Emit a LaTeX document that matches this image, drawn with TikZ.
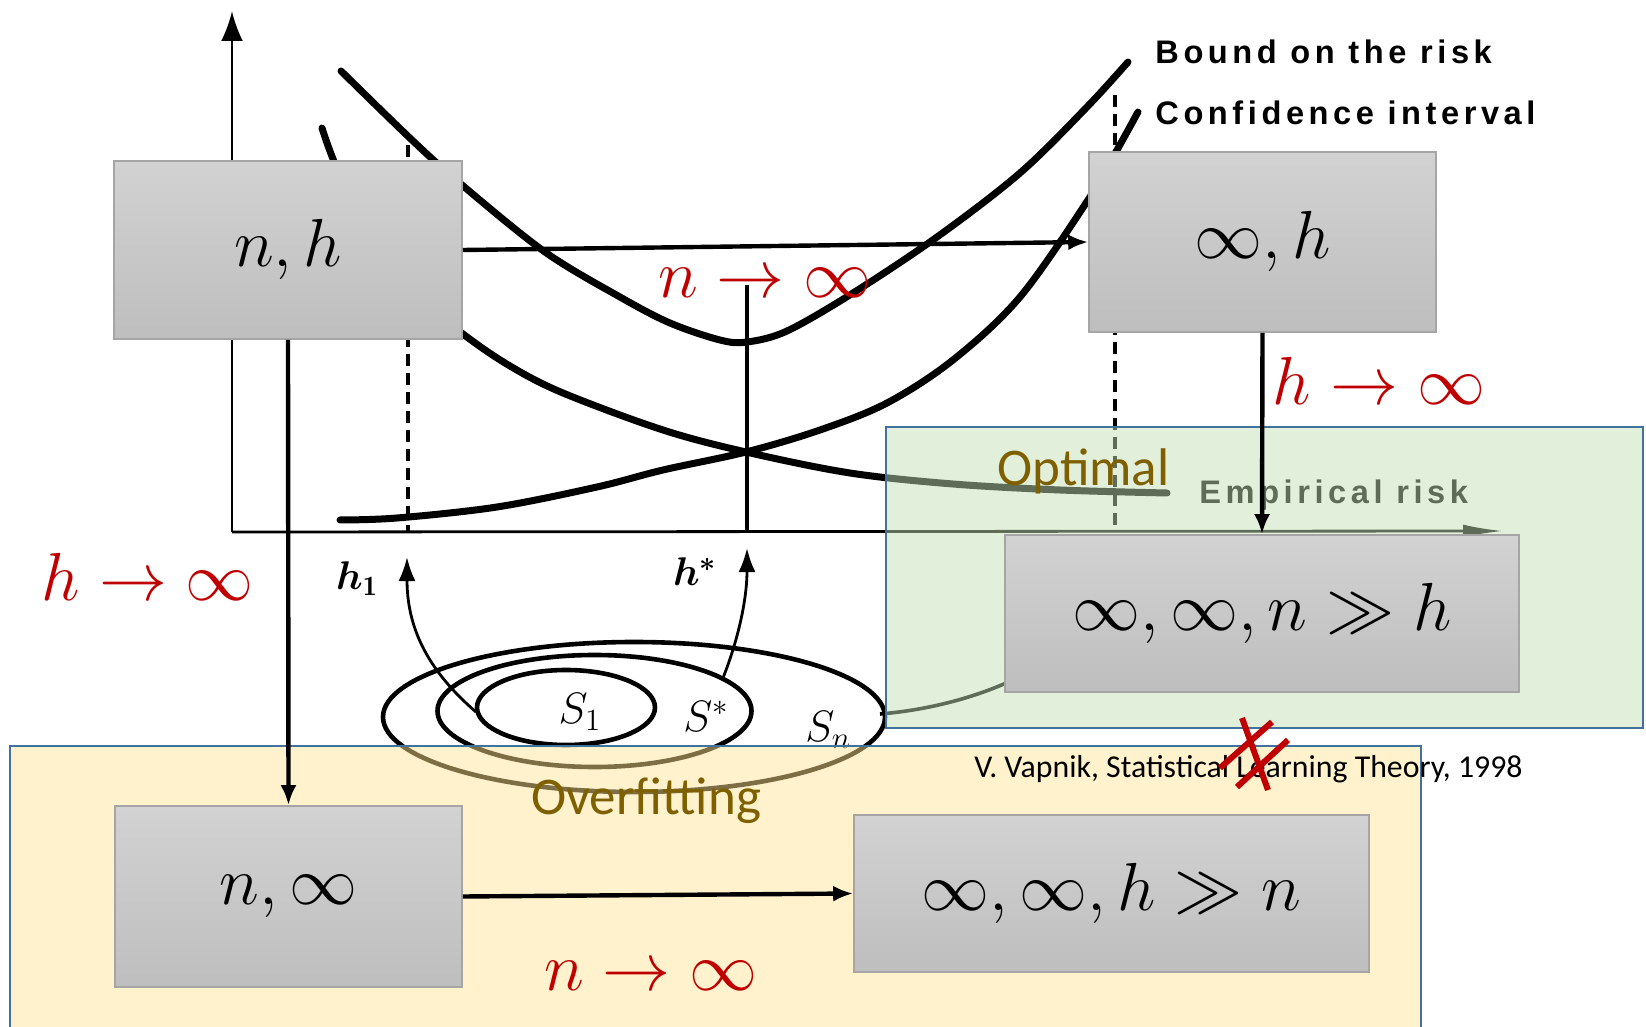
\RequirePackage{fix-cm}
\documentclass[tikz,border=0pt]{standalone}
\usepackage{amsmath,bm}
\usepackage{fontspec}
\newfontfamily\scanfont[LetterSpace=14]{Liberation Sans Bold}
\newfontfamily\calfont{Carlito}
\usetikzlibrary{arrows.meta,shadings}
\definecolor{boxtop}{RGB}{210,210,210}
\definecolor{boxbot}{RGB}{190,190,190}
\definecolor{boxedge}{RGB}{165,165,165}
\definecolor{greenfill}{RGB}{226,239,218}
\definecolor{yellowfill}{RGB}{255,242,204}
\definecolor{rectedge}{RGB}{65,113,156}
\definecolor{fadegreen}{RGB}{95,108,88}
\definecolor{fadeyellow}{RGB}{125,110,70}
\definecolor{goldtext}{RGB}{127,96,0}
\definecolor{redlab}{RGB}{192,0,0}
\tikzset{
  curve/.style={line width=3.5pt,line cap=round,line join=round},
  axisline/.style={line width=1.4pt},
  dashline/.style={line width=2pt,dash pattern=on 6pt off 3.5pt},
  thinarrow/.style={line width=1.4pt,-{Latex[length=12pt,width=8.5pt]}},
  scantext/.style={inner sep=0pt,font=\scanfont\fontsize{16.3}{19}\selectfont},
  setlab/.style={inner sep=0pt,font=\fontsize{22}{24}\selectfont},
  axlab/.style={inner sep=0pt,font=\fontsize{20}{22}\selectfont},
  gbox/.style={draw=boxedge,line width=0.8pt,top color=boxtop,bottom color=boxbot,inner sep=0pt,font=\fontsize{34}{40}\selectfont},
  conn/.style={line width=2.2pt,-{Latex[length=10pt,width=8pt]}},
  redl/.style={inner sep=0pt,text=redlab,font=\fontsize{34}{40}\selectfont},
  regionlab/.style={inner sep=0pt,text=goldtext,font=\calfont\fontsize{26.5}{30}\selectfont},
  regionbox/.style={draw=rectedge,line width=1.1pt},
  crossline/.style={draw=redlab,line width=3pt}
}
\newcommand\vgraph[1]{%
\begin{scope}[color=#1]
  % axes
  \draw[axisline,-{Latex[length=15pt,width=11pt]}] (232,532) -- (232,11);
  \draw[axisline,-{Latex[length=20pt,width=6.5pt]}] (232,532) -- (1503,531);
  % dashed verticals and h* line
  \draw[dashline] (408,145) -- (408,532);
  \draw[dashline] (1115,95) -- (1115,532);
  \draw[line width=1.6pt] (747,285) -- (747,532);
  % bound on the risk
  \draw[curve] plot[smooth,tension=0.55] coordinates {(341,71) (413,141) (462,185) (545,252) (620,297) (670,323) (720,340) (747,342) (787,331) (853,293) (937,237) (1020,173) (1087,107) (1128,62)};
  % confidence interval
  \draw[curve] plot[smooth,tension=0.55] coordinates {(340,520) (397,518) (497,507) (597,487) (663,470) (746,452) (820,430) (887,403) (953,360) (1020,297) (1088,200) (1117,150) (1138,112)};
  % empirical risk
  \draw[curve] plot[smooth,tension=0.55] coordinates {(322,128) (340,175) (380,245) (420,297) (463,334) (510,366) (563,393) (663,430) (746,452) (850,473) (953,484) (1060,490) (1167,493)};
  % nested sets
  \draw[line width=2.3pt] (634,717) ellipse [x radius=251, y radius=75];
  \draw[line width=2.3pt] (594.5,711) ellipse [x radius=157, y radius=56];
  \draw[line width=2.3pt] (566,707.5) ellipse [x radius=89, y radius=37.5];
  \node[setlab] (s1) at (580,712) {$S_1$};
  \node[setlab] (sstar) at (706,716) {$S^*$};
  \node[setlab] (sn) at (828,730) {$S_n$};
  % arrows to the axis
  \draw[thinarrow] (476,712) .. controls (425,668) and (407,625) .. (407,557);
  \draw[thinarrow] (723,678) .. controls (738,640) and (747,600) .. (747,548);
  \draw[line width=1.8pt] (880,714) .. controls (990,705) and (1110,650) .. (1115,560);
  % axis labels
  \node[axlab,anchor=base] (h1) at (357,589) {$\bm{h}_{\mathbf 1}$};
  \node[axlab,anchor=base] (hstar) at (695,586) {$\bm{h}^{\bm *}$};
  % curve labels
  \node[scantext,anchor=base west] (bound) at (1155,64) {Bound on the risk};
  \node[scantext,anchor=base west] (conf) at (1155,125) {Confidence interval};
  \node[scantext,anchor=base west] (emp) at (1199,503) {Empirical risk};
\end{scope}}
\begin{document}
\begin{tikzpicture}[x=0.5pt,y=-0.5pt]
\useasboundingbox (0,0) rectangle (1646,1027);
\clip (0,0) rectangle (1646,1027);
\fill[white] (0,0) rectangle (1646,1027);
% the Vapnik figure
\vgraph{black}
% green region
\fill[greenfill] (886,427) rectangle (1643,728);
\begin{scope}
  \clip (886,427) rectangle (1643,728);
  \vgraph{fadegreen}
\end{scope}
\draw[regionbox] (886,427) rectangle (1643,728);
% yellow region
\fill[yellowfill] (10,746) rectangle (1421,1040);
\begin{scope}
  \clip (10,746) rectangle (1421,1040);
  \vgraph{fadeyellow}
\end{scope}
\draw[regionbox] (10,746) rectangle (1421,1040);
\node[regionlab,anchor=base west] (optimal) at (997,486) {Optimal};
\node[regionlab,anchor=base west] (overfit) at (531,814) {Overfitting};
% boxes
\node[gbox,minimum width=174pt,minimum height=89pt] (nh) at (288,250) {$n,h$};
\node[gbox,minimum width=173.5pt,minimum height=90pt] (inh) at (1262.5,242) {$\infty,h$};
\node[gbox,minimum width=257pt,minimum height=78.5pt] (iinh) at (1262,613.5) {$\infty,\infty,n\gg h$};
\node[gbox,minimum width=173.5pt,minimum height=90.5pt] (nin) at (288.5,896.5) {$n,\infty$};
\node[gbox,minimum width=257.5pt,minimum height=78.5pt] (iihn) at (1111.5,893.5) {$\infty,\infty,h\gg n$};
% connectors
\draw[conn] (nh.east) -- (inh.west);
\draw[conn] (inh.south) -- (iinh.north);
\draw[conn] (nh.south) -- (nin.north);
\draw[conn] (nin.east) -- (iihn.west);
% limit labels
\node[redl,anchor=base] (lt) at (765,298) {$n\rightarrow\infty$};
\node[redl,anchor=base] (lr) at (1379,405) {$h\rightarrow\infty$};
\node[redl,anchor=base] (ll) at (148,600) {$h\rightarrow\infty$};
\node[redl,anchor=base] (lb) at (651,990) {$n\rightarrow\infty$};
% citation
\node[inner sep=0pt,anchor=base west,font=\calfont\fontsize{15.9}{18}\selectfont] (cite) at (974,777) {V. Vapnik, Statistical Learning Theory, 1998};
% not-equal mark
\draw[crossline] (1242,718) -- (1268,790);
\draw[crossline] (1272,722) -- (1220,768);
\draw[crossline] (1288,740) -- (1237,787);
\end{tikzpicture}
\end{document}
